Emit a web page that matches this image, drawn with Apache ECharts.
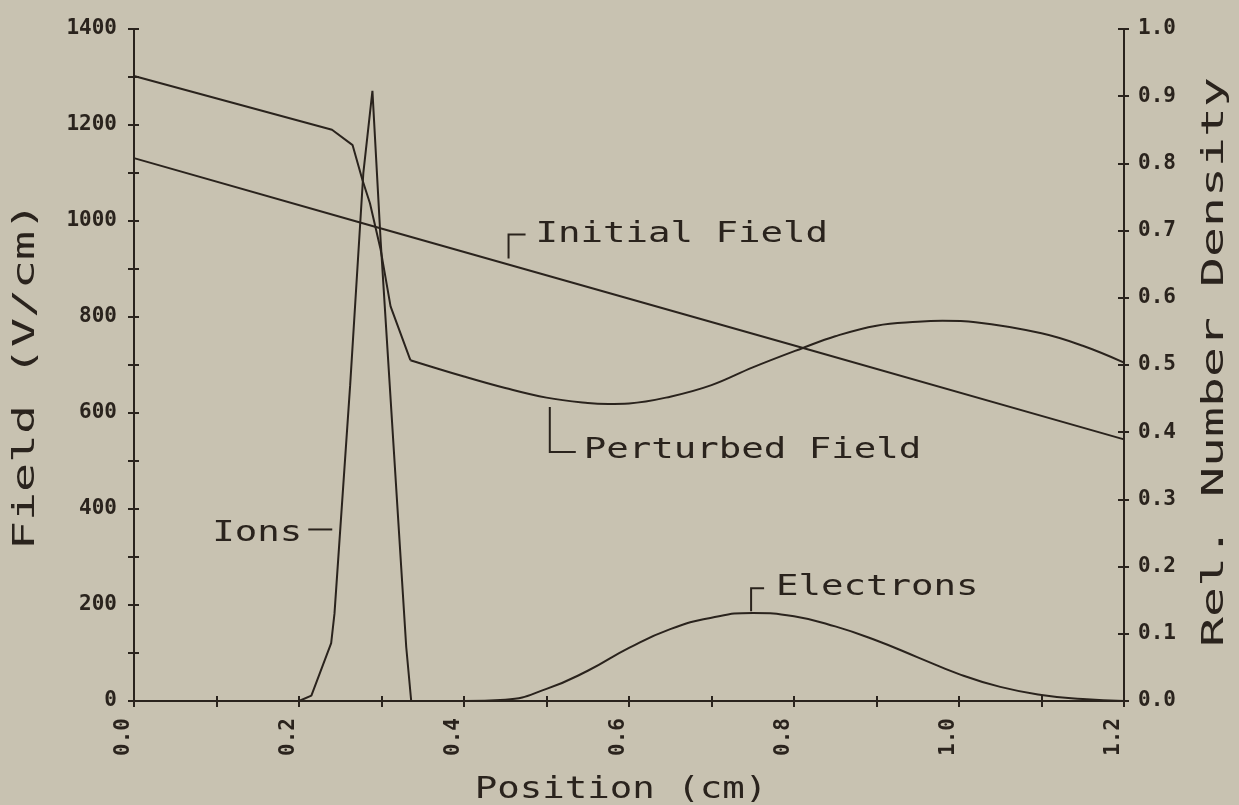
<!DOCTYPE html>
<html>
<head>
<meta charset="utf-8">
<title>Field and Number Density vs Position</title>
<script src="https://cdn.jsdelivr.net/npm/echarts@6/dist/echarts.min.js"></script>
<style>
  html, body { margin: 0; padding: 0; background: #c8c2b1; }
  #chart { width: 1239px; height: 805px; }
</style>
</head>
<body>
<div id="chart"></div>
<script>
// Position along the gap (cm) for each curve
const initialPos   = [0, 0.274, 0.81, 1.2];
const initialField = [1131, 997, 736, 545];

// The perturbed field bends sharply near the ion layer, then varies smoothly
const perturbedPos   = [0, 0.24, 0.265, 0.277, 0.286, 0.299, 0.311, 0.335, 0.40, 0.45, 0.50, 0.55, 0.575, 0.60, 0.65, 0.70, 0.75, 0.81, 0.85, 0.90, 0.95, 0.98, 1.02, 1.10, 1.15, 1.2];
const perturbedField = [1302, 1190, 1158, 1085, 1037, 940, 822, 710, 676, 652, 632, 621, 619, 620, 634, 658, 695, 735, 760, 782, 790, 792, 789, 766, 740, 705];
const perturbedBend  = 7; // index where the smooth part starts (x = 0.335)

const ionPos = [0, 0.2, 0.215, 0.239, 0.243, 0.262, 0.278, 0.289, 0.299, 0.33, 0.336, 1.2];
const ions   = [0, 0, 0.008, 0.086, 0.13, 0.47, 0.786, 0.908, 0.684, 0.08, 0, 0];

const electronPos = [0, 0.40, 0.45, 0.50, 0.55, 0.60, 0.65, 0.70, 0.75, 0.80, 0.85, 0.90, 0.95, 1.00, 1.05, 1.10, 1.15, 1.20];
const electrons   = [0, 0, 0.002, 0.018, 0.045, 0.079, 0.107, 0.124, 0.131, 0.126, 0.111, 0.090, 0.065, 0.040, 0.021, 0.009, 0.003, 0];

// Axis ranges and tick steps
const xRange = [0, 1.2], xStep = 0.1;
const fieldRange = [0, 1400], fieldStep = 100;
const densityRange = [0, 1.0], densityStep = 0.1;

const ink = '#2a231d';
const paper = '#c8c2b1';
const mono = '"DejaVu Sans Mono", "Liberation Mono", monospace';

const pairs = (xs, ys) => xs.map((x, i) => [x, ys[i]]);
const interp = (xs, ys, x) => {
  for (let i = 1; i < xs.length; i++) {
    if (x <= xs[i]) {
      const t = (x - xs[i - 1]) / (xs[i] - xs[i - 1]);
      return ys[i - 1] + t * (ys[i] - ys[i - 1]);
    }
  }
  return ys[ys.length - 1];
};

const tickLabel = { fontFamily: mono, fontWeight: 'bold', fontSize: 21, color: ink };
const axisInk = { color: ink, width: 2 };

const chart = echarts.init(document.getElementById('chart'), null, { renderer: 'canvas' });

const lineSeries = (name, data, yAxisIndex, extra) => Object.assign({
  name, type: 'line', data, xAxisIndex: 0, yAxisIndex,
  symbol: 'none', showSymbol: false,
  lineStyle: { color: ink, width: 2 },
  emphasis: { disabled: true }
}, extra || {});

const perturbedPairs = pairs(perturbedPos, perturbedField);

chart.setOption({
  backgroundColor: paper,
  animation: false,
  grid: { left: 134, right: 115, top: 29, bottom: 104, containLabel: false },
  xAxis: [
    {
      type: 'value', min: xRange[0], max: xRange[1], interval: xStep, position: 'bottom',
      axisLine: { show: true, onZero: false, lineStyle: axisInk },
      axisTick: { show: true, length: 6, lineStyle: axisInk },
      axisLabel: Object.assign({
        rotate: 90, margin: 17, verticalAlign: 'bottom',
        formatter: v => (Math.round(v * 10) % 2 === 0 ? v.toFixed(1) : '')
      }, tickLabel),
      splitLine: { show: false }
    },
    {
      type: 'value', min: xRange[0], max: xRange[1], interval: xStep, position: 'bottom',
      axisLine: { show: false, onZero: false },
      axisTick: { show: true, inside: true, length: 5, lineStyle: axisInk },
      axisLabel: { show: false },
      splitLine: { show: false }
    }
  ],
  yAxis: [
    {
      type: 'value', min: fieldRange[0], max: fieldRange[1], interval: fieldStep, position: 'left',
      axisLine: { show: true, onZero: false, lineStyle: axisInk },
      axisTick: { show: true, length: 6, lineStyle: axisInk },
      axisLabel: Object.assign({
        margin: 17, verticalAlign: 'middle', padding: [0, 0, 8, 0],
        formatter: v => (Math.round(v) % 200 === 0 ? String(Math.round(v)) : '')
      }, tickLabel),
      splitLine: { show: false }
    },
    {
      type: 'value', min: densityRange[0], max: densityRange[1], interval: densityStep, position: 'right',
      axisLine: { show: true, onZero: false, lineStyle: axisInk },
      axisTick: { show: true, length: 5, lineStyle: axisInk },
      axisLabel: Object.assign({
        margin: 14, verticalAlign: 'middle', padding: [0, 0, 4, 0],
        formatter: v => v.toFixed(1)
      }, tickLabel),
      splitLine: { show: false }
    },
    {
      type: 'value', min: fieldRange[0], max: fieldRange[1], interval: fieldStep, position: 'left',
      axisLine: { show: false, onZero: false },
      axisTick: { show: true, inside: true, length: 5, lineStyle: axisInk },
      axisLabel: { show: false },
      splitLine: { show: false }
    },
    {
      type: 'value', min: densityRange[0], max: densityRange[1], interval: densityStep, position: 'right',
      axisLine: { show: false, onZero: false },
      axisTick: { show: true, inside: true, length: 6, lineStyle: axisInk },
      axisLabel: { show: false },
      splitLine: { show: false }
    }
  ],
  series: [
    lineSeries('Initial Field', pairs(initialPos, initialField), 0),
    lineSeries('Perturbed Field', perturbedPairs.slice(0, perturbedBend + 1), 0),
    lineSeries('Perturbed Field', perturbedPairs.slice(perturbedBend), 0, { smooth: 0.4 }),
    lineSeries('Ions', pairs(ionPos, ions), 1),
    lineSeries('Electrons', pairs(electronPos, electrons), 1, { smooth: 0.5 })
  ]
});

// Wide, evenly spaced plotter-style lettering: a monospace face stretched to a cell width
function plotterText(text, x, y, opts) {
  const size = opts.size || 28;
  const cell = opts.cell || 22.5;
  return {
    type: 'text', x, y,
    rotation: opts.rotation || 0,
    scaleX: cell / (0.602 * size),
    silent: true,
    style: {
      text, fontFamily: mono, fontSize: size, fill: ink,
      align: opts.align || 'left', verticalAlign: opts.verticalAlign || 'middle'
    }
  };
}
function bracket(points) {
  return { type: 'polyline', silent: true, shape: { points }, style: { stroke: ink, lineWidth: 2, fill: null } };
}

const toField = p => chart.convertToPixel({ xAxisIndex: 0, yAxisIndex: 0 }, p);
const toDensity = p => chart.convertToPixel({ xAxisIndex: 0, yAxisIndex: 1 }, p);

const initialAt = toField([0.454, interp(initialPos, initialField, 0.454)]);
const perturbedAt = toField([0.504, interp(perturbedPos, perturbedField, 0.504)]);
const electronsAt = toDensity([0.748, interp(electronPos, electrons, 0.748)]);
const ionsAt = toDensity([0.25, interp(ionPos, ions, 0.25)]);

const graphics = [
  // Initial Field callout
  bracket([[initialAt[0], initialAt[1] - 6], [initialAt[0], initialAt[1] - 30], [initialAt[0] + 17, initialAt[1] - 30]]),
  plotterText('Initial Field', initialAt[0] + 27, initialAt[1] - 30, {}),
  // Perturbed Field callout
  bracket([[perturbedAt[0], perturbedAt[1] + 9], [perturbedAt[0], perturbedAt[1] + 54], [perturbedAt[0] + 26, perturbedAt[1] + 54]]),
  plotterText('Perturbed Field', perturbedAt[0] + 34, perturbedAt[1] + 53, {}),
  // Electrons callout
  bracket([[electronsAt[0], electronsAt[1] - 2], [electronsAt[0], electronsAt[1] - 25], [electronsAt[0] + 13, electronsAt[1] - 25]]),
  plotterText('Electrons', electronsAt[0] + 25, electronsAt[1] - 25, {}),
  // Ions callout
  bracket([[ionsAt[0] - 32, ionsAt[1]], [ionsAt[0] - 8, ionsAt[1]]]),
  plotterText('Ions', ionsAt[0] - 38, ionsAt[1] + 4, { align: 'right' }),
  // Axis titles
  plotterText('Position (cm)', 621, 790, { size: 30, cell: 22.5, align: 'center' }),
  plotterText('Field (V/cm)', 26, 376, { size: 30, cell: 29, align: 'center', rotation: Math.PI / 2 }),
  plotterText('Rel. Number Density', 1215, 362, { size: 30, cell: 30, align: 'center', rotation: Math.PI / 2 })
];

chart.setOption({ graphic: graphics });
</script>
</body>
</html>
